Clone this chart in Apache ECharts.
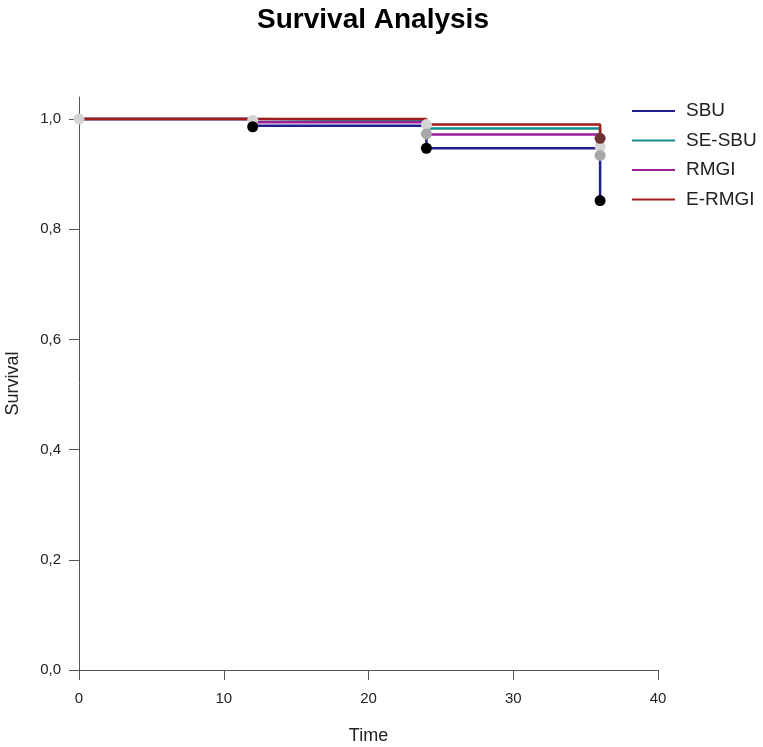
<!DOCTYPE html>
<html>
<head>
<meta charset="utf-8">
<script src="https://cdn.jsdelivr.net/npm/echarts@6/dist/echarts.min.js"></script>
<style>
  html, body { margin: 0; padding: 0; background: #fff; }
  #chart { width: 763px; height: 747px; }
</style>
</head>
<body>
<div id="chart"></div>
<script>
// survival curves (time, survival)
const times = [0, 12, 24, 36];
const groupNames = ['SBU', 'SE-SBU', 'RMGI', 'E-RMGI'];
const groupColors = ['#1f1f8f', '#178c8c', '#9b1f9b', '#a31c1c'];
const sbu = [1.0, 0.988, 0.947, 0.852];
const seSbu = [1.0, 0.997, 0.983, 0.950];
const rmgi = [1.0, 0.994, 0.972, 0.934];
const eRmgi = [1.0, 1.0, 0.990, 0.965];

// event markers, grouped by marker colour
const lightMarks = [[0, 1.0], [12, 0.998], [24, 0.990], [36, 0.950]];
const grayMarks = [[24, 0.973], [36, 0.934]];
const blackMarks = [[12, 0.986], [24, 0.947], [36, 0.852]];
const redMarks = [[36, 0.965]];

const yTicks = [0, 0.2, 0.4, 0.6, 0.8, 1.0];

const curves = [sbu, seSbu, rmgi, eRmgi];
const font = 'Liberation Sans, Arial, sans-serif';

const lineSeries = curves.map((vals, i) => ({
  name: groupNames[i],
  type: 'line',
  step: 'end',
  symbol: 'none',
  data: times.map((t, k) => [t, vals[k]]),
  lineStyle: { color: groupColors[i], width: 2.5 },
  itemStyle: { color: groupColors[i] },
  z: 2
}));

function marks(data, color) {
  return {
    type: 'scatter',
    data: data,
    symbolSize: 11,
    itemStyle: { color: color, opacity: 1 },
    z: 3
  };
}

const chart = echarts.init(document.getElementById('chart'));
chart.setOption({
  animation: false,
  title: {
    text: 'Survival Analysis',
    left: 368,
    textAlign: 'center',
    top: 1,
    textStyle: { fontFamily: font, fontSize: 28, fontWeight: 'bold', color: '#000' }
  },
  legend: {
    data: groupNames,
    orient: 'vertical',
    left: 627,
    top: 96,
    itemWidth: 43,
    itemHeight: 2,
    itemGap: 9.5,
    icon: 'rect',
    textStyle: { fontFamily: font, fontSize: 19, lineHeight: 20, color: '#222', padding: [0, 0, 0, 6] }
  },
  grid: { left: 79, right: 105, top: 97, bottom: 77, outerBoundsMode: 'none' },
  xAxis: {
    type: 'value',
    min: 0,
    max: 40,
    interval: 10,
    name: 'Time',
    nameLocation: 'middle',
    nameGap: 57,
    nameTextStyle: { fontFamily: font, fontSize: 18, color: '#222' },
    axisLine: { show: true, lineStyle: { color: '#555', width: 1 } },
    axisTick: { show: true, length: 10, lineStyle: { color: '#555' } },
    axisLabel: { fontFamily: font, fontSize: 15, color: '#222', margin: 21 },
    splitLine: { show: false }
  },
  yAxis: {
    type: 'value',
    min: 0,
    max: 1.04,
    name: 'Survival',
    nameLocation: 'middle',
    nameGap: 57,
    nameTextStyle: { fontFamily: font, fontSize: 18, color: '#222' },
    axisLine: { show: true, lineStyle: { color: '#555', width: 1 } },
    axisTick: { show: true, length: 10, customValues: yTicks, lineStyle: { color: '#555' } },
    axisLabel: {
      fontFamily: font, fontSize: 15, color: '#222', margin: 18,
      customValues: yTicks,
      formatter: v => v.toFixed(1).replace('.', ',')
    },
    splitLine: { show: false }
  },
  series: lineSeries.concat([
    marks(lightMarks, '#d4d4d4'),
    marks(grayMarks, '#a8a8a8'),
    marks(blackMarks, '#000000'),
    marks(redMarks, '#6e3434')
  ])
});
</script>
</body>
</html>
